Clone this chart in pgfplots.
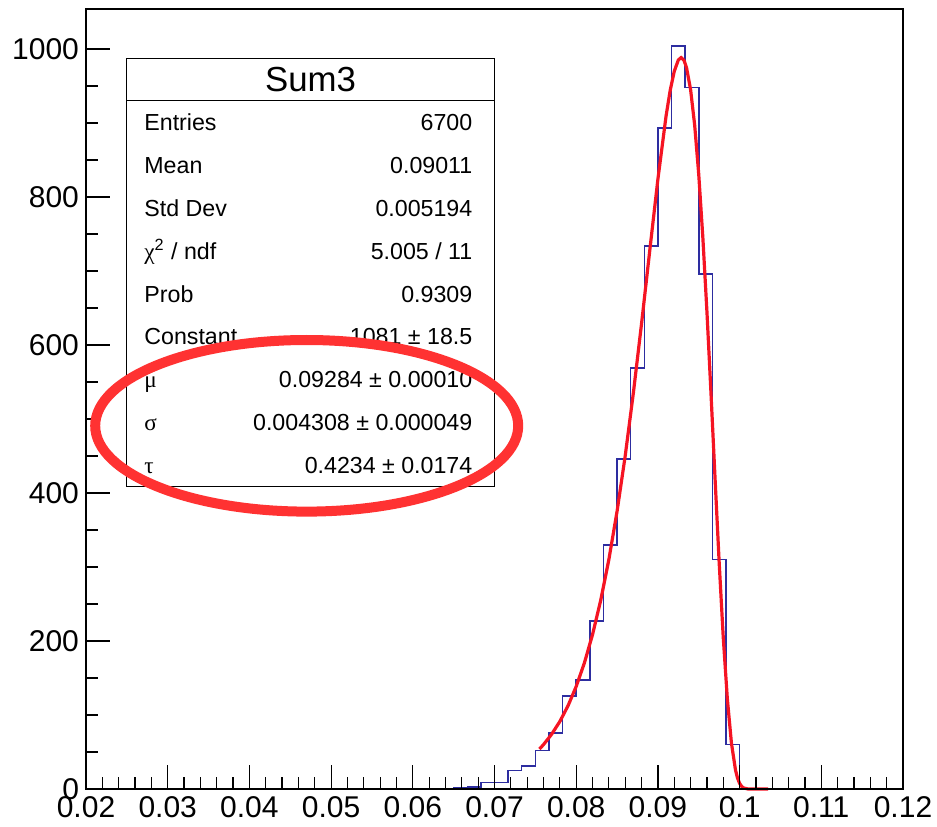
\documentclass[border=0pt]{standalone}
\usepackage{pgfplots}
\pgfplotsset{compat=1.18}
\usepackage{fontspec}
\setmainfont{Liberation Sans}
\newfontfamily\greek{Liberation Serif}
\definecolor{histblue}{RGB}{45,45,160}
\definecolor{fitred}{RGB}{245,20,35}
\definecolor{ellred}{RGB}{255,50,50}
\newcommand{\rowfont}{\fontsize{11.6}{14}\selectfont}
\begin{document}
\begin{tikzpicture}
\useasboundingbox (0,0) rectangle (468.5pt,413pt);
\begin{axis}[
  at={(43pt,18.5pt)}, anchor=south west,
  scale only axis, width=408.5pt, height=390pt,
  xmin=0.02, xmax=0.12, ymin=0, ymax=1054,
  xtick={0.02,0.03,0.04,0.05,0.06,0.07,0.08,0.09,0.1,0.11,0.12},
  xticklabels={0.02,0.03,0.04,0.05,0.06,0.07,0.08,0.09,0.1,0.11,0.12},
  ytick={0,200,400,600,800,1000},
  yticklabels={0,200,400,600,800,1000},
  minor x tick num=4, minor y tick num=3,
  tick align=inside, xtick pos=left, ytick pos=left,
  major tick length=12pt, minor tick length=6pt,
  tick style={black, line width=0.6pt},
  axis line style={black, line width=0.8pt},
  ticklabel style={font=\fontsize{15}{18}\selectfont},
  /pgf/number format/assume math mode=true,
  axis on top,
  clip=false,
]
\addplot[const plot, histblue, line width=0.75pt] table {
x y
0.02 0
0.053333 1
0.055 0
0.061667 1
0.063333 0
0.065 2
0.066667 3
0.068333 9
0.07 9
0.071667 25
0.073333 31
0.075 52
0.076667 76
0.078333 126
0.08 147
0.081667 227
0.083333 330
0.085 446
0.086667 569
0.088333 734
0.09 893
0.091667 1004
0.093333 948
0.095 696
0.096667 310
0.098333 60
0.1 0
0.12 0
};
\addplot[fitred, line width=1.6pt] table {
x y
0.0755 54.0
0.076 60.0
0.077 74.1
0.078 91.3
0.079 112.5
0.080 138.6
0.081 170.3
0.082 208.7
0.083 255.0
0.084 310.2
0.085 375.1
0.086 450.3
0.087 535.5
0.088 629.0
0.089 727.3
0.090 824.1
0.091 909.5
0.0915 943.8
0.092 969.7
0.0925 985.1
0.09284 988.3
0.0932 984.4
0.0935 974.9
0.094 945.2
0.0945 897.1
0.095 830.2
0.0955 745.4
0.096 645.3
0.0965 534.2
0.097 418.5
0.0975 305.8
0.098 204.5
0.0985 121.7
0.099 62.0
0.0995 25.4
0.09975 14.6
0.100 7.6
0.10025 3.5
0.1005 1.4
0.101 0.1
0.1015 0
0.1035 0
};
\end{axis}
\begin{scope}[shift={(0pt,413pt)}, x=0.5pt, y=-0.5pt]
\draw[fill=white, line width=0.6pt] (126.7,58.3) rectangle (494.5,486.7);
\draw[line width=0.6pt] (126.7,100.7) -- (494.5,100.7);
\node[font=\fontsize{17.4}{20}\selectfont, inner sep=0pt] at (310.6,79.5) {Sum3};
\node[anchor=base west, inner sep=0pt, font=\rowfont] at (144,131) {Entries};
\node[anchor=base east, inner sep=0pt, font=\rowfont] at (472.7,131) {6700};
\node[anchor=base west, inner sep=0pt, font=\rowfont] at (144,173.8) {Mean};
\node[anchor=base east, inner sep=0pt, font=\rowfont] at (472.7,173.8) {0.09011};
\node[anchor=base west, inner sep=0pt, font=\rowfont] at (144,216.6) {Std Dev};
\node[anchor=base east, inner sep=0pt, font=\rowfont] at (472.7,216.6) {0.005194};
\node[anchor=base west, inner sep=0pt, font=\rowfont] at (144,259.4) {{\greek χ}\textsuperscript{2} / ndf};
\node[anchor=base east, inner sep=0pt, font=\rowfont] at (472.7,259.4) {5.005 / 11};
\node[anchor=base west, inner sep=0pt, font=\rowfont] at (144,302.2) {Prob};
\node[anchor=base east, inner sep=0pt, font=\rowfont] at (472.7,302.2) {0.9309};
\node[anchor=base west, inner sep=0pt, font=\rowfont] at (144,345) {Constant};
\node[anchor=base east, inner sep=0pt, font=\rowfont] at (472.7,345) {1081 ± 18.5};
\node[anchor=base west, inner sep=0pt, font=\rowfont] at (144,387.8) {\greek μ};
\node[anchor=base east, inner sep=0pt, font=\rowfont] at (472.7,387.8) {0.09284 ± 0.00010};
\node[anchor=base west, inner sep=0pt, font=\rowfont] at (144,430.6) {\greek σ};
\node[anchor=base east, inner sep=0pt, font=\rowfont] at (472.7,430.6) {0.004308 ± 0.000049};
\node[anchor=base west, inner sep=0pt, font=\rowfont] at (144,473.4) {\greek τ};
\node[anchor=base east, inner sep=0pt, font=\rowfont] at (472.7,473.4) {0.4234 ± 0.0174};
\draw[ellred, line width=5pt] (306.7,425.8) ellipse [x radius=105.75pt, y radius=42.9pt];
\end{scope}
\end{tikzpicture}
\end{document}
